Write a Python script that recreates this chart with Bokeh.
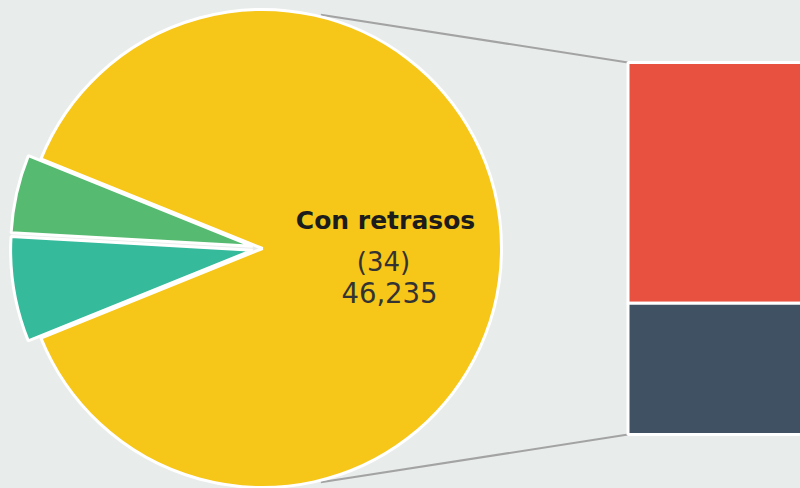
import numpy as np
from jinja2 import Template
from bokeh.plotting import figure
from bokeh.models import Range1d, ColumnDataSource
from bokeh.core.properties import value
from bokeh.embed import file_html
from bokeh.resources import INLINE

# ---- data ----
pie_names = ["Con retrasos", "Sin retrasos", "Otros"]
pie_values = [46235, 2750, 3690]
pie_colors = ["#f6c619", "#56bb70", "#35ba9b"]
main_count = 34

bar_names = ["Retraso mayor", "Retraso menor"]
bar_values = [22, 12]
bar_colors = ["#e85040", "#3f5163"]

BG = "#e8eceb"
W, H = 800, 488

p = figure(width=W, height=H, x_range=Range1d(0, W), y_range=Range1d(0, H),
           output_backend="svg", toolbar_location=None, min_border=0,
           background_fill_color=BG, border_fill_color=BG, outline_line_color=None)
p.axis.visible = False
p.xgrid.visible = False
p.ygrid.visible = False

# ---- pie ----
cx, cy = 262.0, 240.0
r_main, r_slice, offset = 239.0, 242.0, 10.0
vals = np.array(pie_values, dtype=float)
frac = vals / vals.sum()
a0 = -frac[0] * np.pi
starts, ends = [], []
a = a0
for f in frac:
    starts.append(a)
    a += f * 2 * np.pi
    ends.append(a)
starts = np.array(starts)
ends = np.array(ends)
mids = (starts + ends) / 2
xs = cx + np.where(np.arange(len(frac)) > 0, offset * np.cos(mids), 0.0)
ys = cy + np.where(np.arange(len(frac)) > 0, offset * np.sin(mids), 0.0)
radii = [r_main] + [r_slice] * (len(frac) - 1)

# ---- bar (breakdown of main slice) ----
bar_left, bar_right = 627.5, 900.0
bar_bottom_px, bar_top_px = 54.0, 426.0
scale = (bar_top_px - bar_bottom_px) / main_count
bottoms, tops = [], []
acc = bar_bottom_px
for v in reversed(bar_values):
    bottoms.insert(0, acc)
    acc += v * scale
    tops.insert(0, acc)

# connector lines
conn_ang = np.deg2rad(76.0)
rc = 241.0
p.line([cx + rc * np.cos(conn_ang), bar_left], [cy + rc * np.sin(conn_ang), tops[0]],
       line_color="#a3a3a3", line_width=2)
p.line([cx + rc * np.cos(conn_ang), bar_left], [cy - rc * np.sin(conn_ang), bottoms[-1]],
       line_color="#a3a3a3", line_width=2)

src = ColumnDataSource(dict(x=xs, y=ys, r=radii, s=starts, e=ends, c=pie_colors, n=pie_names))
p.wedge(x="x", y="y", radius="r", start_angle="s", end_angle="e", fill_color="c",
        line_color="white", line_width=3, source=src)

bsrc = ColumnDataSource(dict(l=[bar_left] * len(bar_values), r=[bar_right] * len(bar_values),
                             b=bottoms, t=tops, c=bar_colors, n=bar_names))
p.quad(left="l", right="r", bottom="b", top="t", fill_color="c",
       line_color="white", line_width=3, source=bsrc)

# ---- labels ----
lx = 385
p.text(x=[lx], y=[H - 220], text=[pie_names[0]], text_font=value("DejaVu Sans"),
       text_font_style="bold", text_font_size="25px", text_color="#1c1c1c",
       text_align="center", text_baseline="alphabetic")
p.text(x=[lx - 2], y=[H - 261], text=[f"({main_count})"], text_font=value("DejaVu Sans"),
       text_font_size="26px", text_color="#333333",
       text_align="center", text_baseline="alphabetic")
p.text(x=[lx + 4], y=[H - 292], text=[f"{pie_values[0]:,}"], text_font=value("DejaVu Sans"),
       text_font_size="27.5px", text_color="#333333",
       text_align="center", text_baseline="alphabetic")

tmpl = Template("""{% extends base %}
{% block preamble %}<style>html,body{margin:0;padding:0;background:#e8eceb;overflow:hidden;}</style>{% endblock %}""")

open("out.html", "w").write(file_html(p, INLINE, template=tmpl))
